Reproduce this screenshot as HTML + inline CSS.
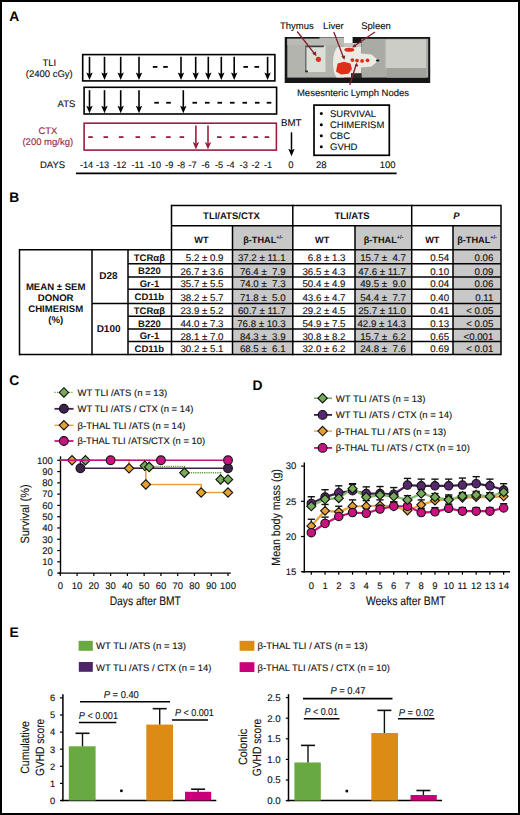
<!DOCTYPE html>
<html><head><meta charset="utf-8"><style>
html,body{margin:0;padding:0;background:#fff;}
svg{display:block;font-family:"Liberation Sans", sans-serif;text-rendering:geometricPrecision;}
</style></head><body>
<svg width="520" height="815" viewBox="0 0 520 815">
<rect x="0" y="0" width="520" height="815" fill="#fff"/>
<text x="9.3" y="21" font-size="13.8" fill="#000" font-weight="bold">A</text>
<text x="49.3" y="65.6" font-size="9.5" fill="#111" text-anchor="middle" stroke="#111" stroke-width="0.12">TLI</text>
<text x="49.3" y="77" font-size="9.5" fill="#111" text-anchor="middle" stroke="#111" stroke-width="0.12">(2400 cGy)</text>
<text x="75.3" y="106.6" font-size="9.5" fill="#111" text-anchor="end" stroke="#111" stroke-width="0.12">ATS</text>
<text x="47.9" y="133.8" font-size="9.5" fill="#9a1f3f" text-anchor="middle" stroke="#9a1f3f" stroke-width="0.12">CTX</text>
<text x="47.8" y="144.8" font-size="9.5" fill="#9a1f3f" text-anchor="middle" stroke="#9a1f3f" stroke-width="0.12">(200 mg/kg)</text>
<text x="40" y="167.5" font-size="9.5" fill="#111" stroke="#111" stroke-width="0.12">DAYS</text>
<rect x="82.7" y="54.6" width="192.2" height="26.3" fill="none" stroke="#000" stroke-width="1.6"/>
<line x1="89.5" y1="56.8" x2="89.5" y2="74.1" stroke="#000" stroke-width="1.6"/>
<path d="M86.3,72.6 L89.5,80.1 L92.7,72.6 L89.5,74.1 Z" fill="#000"/>
<line x1="104.5" y1="56.8" x2="104.5" y2="74.1" stroke="#000" stroke-width="1.6"/>
<path d="M101.3,72.6 L104.5,80.1 L107.7,72.6 L104.5,74.1 Z" fill="#000"/>
<line x1="120.7" y1="56.8" x2="120.7" y2="74.1" stroke="#000" stroke-width="1.6"/>
<path d="M117.5,72.6 L120.7,80.1 L123.9,72.6 L120.7,74.1 Z" fill="#000"/>
<line x1="139" y1="56.8" x2="139" y2="74.1" stroke="#000" stroke-width="1.6"/>
<path d="M135.8,72.6 L139,80.1 L142.2,72.6 L139,74.1 Z" fill="#000"/>
<line x1="181" y1="56.8" x2="181" y2="74.1" stroke="#000" stroke-width="1.6"/>
<path d="M177.8,72.6 L181,80.1 L184.2,72.6 L181,74.1 Z" fill="#000"/>
<line x1="195.7" y1="56.8" x2="195.7" y2="74.1" stroke="#000" stroke-width="1.6"/>
<path d="M192.5,72.6 L195.7,80.1 L198.89999999999998,72.6 L195.7,74.1 Z" fill="#000"/>
<line x1="208.3" y1="56.8" x2="208.3" y2="74.1" stroke="#000" stroke-width="1.6"/>
<path d="M205.10000000000002,72.6 L208.3,80.1 L211.5,72.6 L208.3,74.1 Z" fill="#000"/>
<line x1="221.3" y1="56.8" x2="221.3" y2="74.1" stroke="#000" stroke-width="1.6"/>
<path d="M218.10000000000002,72.6 L221.3,80.1 L224.5,72.6 L221.3,74.1 Z" fill="#000"/>
<line x1="234.2" y1="56.8" x2="234.2" y2="74.1" stroke="#000" stroke-width="1.6"/>
<path d="M231.0,72.6 L234.2,80.1 L237.39999999999998,72.6 L234.2,74.1 Z" fill="#000"/>
<line x1="267.6" y1="56.8" x2="267.6" y2="74.1" stroke="#000" stroke-width="1.6"/>
<path d="M264.40000000000003,72.6 L267.6,80.1 L270.8,72.6 L267.6,74.1 Z" fill="#000"/>
<line x1="152.79999999999998" y1="66.9" x2="157.4" y2="66.9" stroke="#000" stroke-width="1.8"/>
<line x1="163.2" y1="66.9" x2="167.8" y2="66.9" stroke="#000" stroke-width="1.8"/>
<line x1="243.39999999999998" y1="66.9" x2="248.0" y2="66.9" stroke="#000" stroke-width="1.8"/>
<line x1="254.5" y1="66.9" x2="259.1" y2="66.9" stroke="#000" stroke-width="1.8"/>
<rect x="84.1" y="87.3" width="192.5" height="26.7" fill="none" stroke="#000" stroke-width="1.6"/>
<line x1="89.5" y1="90.2" x2="89.5" y2="107.3" stroke="#000" stroke-width="1.6"/>
<path d="M86.3,105.8 L89.5,113.3 L92.7,105.8 L89.5,107.3 Z" fill="#000"/>
<line x1="104.5" y1="90.2" x2="104.5" y2="107.3" stroke="#000" stroke-width="1.6"/>
<path d="M101.3,105.8 L104.5,113.3 L107.7,105.8 L104.5,107.3 Z" fill="#000"/>
<line x1="120.7" y1="90.2" x2="120.7" y2="107.3" stroke="#000" stroke-width="1.6"/>
<path d="M117.5,105.8 L120.7,113.3 L123.9,105.8 L120.7,107.3 Z" fill="#000"/>
<line x1="139" y1="90.2" x2="139" y2="107.3" stroke="#000" stroke-width="1.6"/>
<path d="M135.8,105.8 L139,113.3 L142.2,105.8 L139,107.3 Z" fill="#000"/>
<line x1="183.3" y1="90.2" x2="183.3" y2="107.3" stroke="#000" stroke-width="1.6"/>
<path d="M180.10000000000002,105.8 L183.3,113.3 L186.5,105.8 L183.3,107.3 Z" fill="#000"/>
<line x1="154.29999999999998" y1="102.75" x2="158.9" y2="102.75" stroke="#000" stroke-width="1.8"/>
<line x1="166.2" y1="102.75" x2="170.8" y2="102.75" stroke="#000" stroke-width="1.8"/>
<line x1="192.45" y1="102.75" x2="197.05" y2="102.75" stroke="#000" stroke-width="1.8"/>
<line x1="204.95" y1="102.75" x2="209.55" y2="102.75" stroke="#000" stroke-width="1.8"/>
<line x1="217.45" y1="102.75" x2="222.05" y2="102.75" stroke="#000" stroke-width="1.8"/>
<line x1="229.95" y1="102.75" x2="234.55" y2="102.75" stroke="#000" stroke-width="1.8"/>
<line x1="242.45" y1="102.75" x2="247.05" y2="102.75" stroke="#000" stroke-width="1.8"/>
<line x1="254.95" y1="102.75" x2="259.55" y2="102.75" stroke="#000" stroke-width="1.8"/>
<line x1="266.7" y1="102.75" x2="271.3" y2="102.75" stroke="#000" stroke-width="1.8"/>
<rect x="84.1" y="123.2" width="192.3" height="26.9" fill="none" stroke="#9a1f3f" stroke-width="1.6"/>
<line x1="195.9" y1="125.5" x2="195.9" y2="143.4" stroke="#9a1f3f" stroke-width="1.6"/>
<path d="M192.70000000000002,141.9 L195.9,149.4 L199.1,141.9 L195.9,143.4 Z" fill="#9a1f3f"/>
<line x1="208" y1="125.5" x2="208" y2="143.4" stroke="#9a1f3f" stroke-width="1.6"/>
<path d="M204.8,141.9 L208,149.4 L211.2,141.9 L208,143.4 Z" fill="#9a1f3f"/>
<line x1="88.2" y1="137.1" x2="92.8" y2="137.1" stroke="#9a1f3f" stroke-width="1.8"/>
<line x1="103.5" y1="137.1" x2="108.1" y2="137.1" stroke="#9a1f3f" stroke-width="1.8"/>
<line x1="118.9" y1="137.1" x2="123.5" y2="137.1" stroke="#9a1f3f" stroke-width="1.8"/>
<line x1="135.5" y1="137.1" x2="140.10000000000002" y2="137.1" stroke="#9a1f3f" stroke-width="1.8"/>
<line x1="150.89999999999998" y1="137.1" x2="155.5" y2="137.1" stroke="#9a1f3f" stroke-width="1.8"/>
<line x1="166.1" y1="137.1" x2="170.70000000000002" y2="137.1" stroke="#9a1f3f" stroke-width="1.8"/>
<line x1="179.6" y1="137.1" x2="184.20000000000002" y2="137.1" stroke="#9a1f3f" stroke-width="1.8"/>
<line x1="217.0" y1="137.1" x2="221.60000000000002" y2="137.1" stroke="#9a1f3f" stroke-width="1.8"/>
<line x1="230.0" y1="137.1" x2="234.60000000000002" y2="137.1" stroke="#9a1f3f" stroke-width="1.8"/>
<line x1="242.0" y1="137.1" x2="246.60000000000002" y2="137.1" stroke="#9a1f3f" stroke-width="1.8"/>
<line x1="253.5" y1="137.1" x2="258.1" y2="137.1" stroke="#9a1f3f" stroke-width="1.8"/>
<line x1="264.7" y1="137.1" x2="269.3" y2="137.1" stroke="#9a1f3f" stroke-width="1.8"/>
<text x="79.89999999999999" y="167.5" font-size="9.2" fill="#111" stroke="#111" stroke-width="0.12">-14</text>
<text x="95.89999999999999" y="167.5" font-size="9.2" fill="#111" stroke="#111" stroke-width="0.12">-13</text>
<text x="113.19999999999999" y="167.5" font-size="9.2" fill="#111" stroke="#111" stroke-width="0.12">-12</text>
<text x="131.4" y="167.5" font-size="9.2" fill="#111" stroke="#111" stroke-width="0.12">-11</text>
<text x="147.79999999999998" y="167.5" font-size="9.2" fill="#111" stroke="#111" stroke-width="0.12">-10</text>
<text x="165.1" y="167.5" font-size="9.2" fill="#111" stroke="#111" stroke-width="0.12">-9</text>
<text x="176.9" y="167.5" font-size="9.2" fill="#111" stroke="#111" stroke-width="0.12">-8</text>
<text x="188.4" y="167.5" font-size="9.2" fill="#111" stroke="#111" stroke-width="0.12">-7</text>
<text x="201.5" y="167.5" font-size="9.2" fill="#111" stroke="#111" stroke-width="0.12">-6</text>
<text x="215.0" y="167.5" font-size="9.2" fill="#111" stroke="#111" stroke-width="0.12">-5</text>
<text x="226.5" y="167.5" font-size="9.2" fill="#111" stroke="#111" stroke-width="0.12">-4</text>
<text x="239.6" y="167.5" font-size="9.2" fill="#111" stroke="#111" stroke-width="0.12">-3</text>
<text x="251.5" y="167.5" font-size="9.2" fill="#111" stroke="#111" stroke-width="0.12">-2</text>
<text x="264.0" y="167.5" font-size="9.2" fill="#111" stroke="#111" stroke-width="0.12">-1</text>
<text x="291" y="167.5" font-size="9.5" fill="#111" text-anchor="middle" stroke="#111" stroke-width="0.12">0</text>
<text x="321.3" y="167.5" font-size="9.5" fill="#111" text-anchor="middle" stroke="#111" stroke-width="0.12">28</text>
<text x="387.7" y="167.5" font-size="9.5" fill="#111" text-anchor="middle" stroke="#111" stroke-width="0.12">100</text>
<line x1="76" y1="173.4" x2="396.6" y2="173.4" stroke="#000" stroke-width="1.9"/>
<text x="291.3" y="126" font-size="9.7" fill="#111" text-anchor="middle" stroke="#111" stroke-width="0.12">BMT</text>
<line x1="291.5" y1="132.3" x2="291.5" y2="150.29999999999998" stroke="#000" stroke-width="1.5"/>
<path d="M288.3,148.79999999999998 L291.5,156.2 L294.7,148.79999999999998 L291.5,150.29999999999998 Z" fill="#000"/>
<rect x="314" y="105.1" width="75.3" height="50.2" fill="none" stroke="#000" stroke-width="1.7"/>
<circle cx="321.3" cy="113.6" r="1.5" fill="#000"/>
<text x="330" y="116.89999999999999" font-size="9.5" fill="#111" stroke="#111" stroke-width="0.12">SURVIVAL</text>
<circle cx="321.3" cy="124.64999999999999" r="1.5" fill="#000"/>
<text x="330" y="127.94999999999999" font-size="9.5" fill="#111" stroke="#111" stroke-width="0.12">CHIMERISM</text>
<circle cx="321.3" cy="135.7" r="1.5" fill="#000"/>
<text x="330" y="139.0" font-size="9.5" fill="#111" stroke="#111" stroke-width="0.12">CBC</text>
<circle cx="321.3" cy="146.75" r="1.5" fill="#000"/>
<text x="330" y="150.05" font-size="9.5" fill="#111" stroke="#111" stroke-width="0.12">GVHD</text>
<g>
<rect x="284.7" y="37" width="145.5" height="46" fill="#161616"/>
<rect x="344" y="36" width="8.6" height="7" fill="#ffffff"/>
<rect x="287.3" y="38.6" width="56.7" height="39" fill="#b4b4ae"/>
<rect x="287.3" y="39" width="56.7" height="6" fill="#bbbbb5"/>
<rect x="319.5" y="37.4" width="24.5" height="2" fill="#b9b9b3"/>
<rect x="344" y="43" width="17.4" height="4.5" fill="#c6c6c0"/>
<rect x="361.4" y="38.8" width="66.8" height="38.8" fill="#ababa5"/>
<rect x="385.5" y="39.5" width="40.5" height="28.5" fill="#cdcdc8"/>
<rect x="387" y="68" width="39" height="9.6" fill="#a2a29d"/>
<path d="M337.5,47 L361.4,47 L361.4,53.5 L371.5,54.5 L378.5,60.5 L371.5,66.5 L361.4,67.5 L361.4,73.4 L351,73.4 L351,77.6 L336.5,77.6 C333.5,73 332.5,65 333.3,58 C334,52.5 335.5,49 337.5,47 Z" fill="#ebeae4"/>
<rect x="351" y="73.4" width="10.4" height="4.5" fill="#2c2c2c"/>
<rect x="305" y="46" width="20.5" height="26" fill="#dcded8"/>
<rect x="305" y="45.6" width="18.8" height="1.6" fill="#3a3a3a"/>
<rect x="305" y="46" width="1.5" height="26" fill="#6a6e6c"/>
<rect x="305" y="70.5" width="3" height="1.8" fill="#333"/>
<circle cx="318.4" cy="59.3" r="2.6" fill="#dc2e1c"/>
<path d="M337.5,63.5 L344,61.8 L350.5,63.5 L352,69 L348.5,73.8 L341,74.4 L336,71.5 Z" fill="#de2f1b"/>
<ellipse cx="349.3" cy="49.8" rx="5" ry="2" fill="#dc2e1c"/>
<circle cx="352.4" cy="60.1" r="1.9" fill="#dc2e1c"/>
<circle cx="357" cy="60.6" r="1.9" fill="#dc2e1c"/>
<circle cx="362.1" cy="60.9" r="1.9" fill="#dc2e1c"/>
<circle cx="367.5" cy="60.3" r="1.9" fill="#dc2e1c"/>
<ellipse cx="377.6" cy="60.5" rx="1.7" ry="1.1" fill="#000"/>
</g>
<line x1="297.2" y1="31.5" x2="315.2" y2="54.6" stroke="#85202f" stroke-width="1.35"/>
<path d="M316.5,56.2 L312.3,53.8 L315.8,51.3 Z" fill="#85202f"/>
<line x1="333.8" y1="32" x2="343.6" y2="57.8" stroke="#85202f" stroke-width="1.35"/>
<path d="M344.4,59.8 L341.3,56.5 L345.3,55.6 Z" fill="#85202f"/>
<line x1="375" y1="32" x2="353.6" y2="46.5" stroke="#85202f" stroke-width="1.35"/>
<path d="M352.2,47.6 L354.2,44 L356.6,47.1 Z" fill="#85202f"/>
<line x1="349.7" y1="85" x2="356.2" y2="64.5" stroke="#85202f" stroke-width="1.35"/>
<path d="M356.8,62.8 L358.3,66.6 L354.6,66 Z" fill="#85202f"/>
<text x="296.9" y="28.9" font-size="9.5" fill="#111" text-anchor="middle" stroke="#111" stroke-width="0.12">Thymus</text>
<text x="333.4" y="28.9" font-size="9.5" fill="#111" text-anchor="middle" stroke="#111" stroke-width="0.12">Liver</text>
<text x="376" y="28.9" font-size="9.5" fill="#111" text-anchor="middle" stroke="#111" stroke-width="0.12">Spleen</text>
<text x="353" y="95.5" font-size="9.5" fill="#111" text-anchor="middle" stroke="#111" stroke-width="0.12">Mesesnteric Lymph Nodes</text>
<text x="9.2" y="202" font-size="13.8" fill="#000" font-weight="bold">B</text>
<rect x="232.5" y="225.8" width="60.30000000000001" height="128.8" fill="#c8c8c8"/>
<rect x="355" y="225.8" width="56.69999999999999" height="128.8" fill="#c8c8c8"/>
<rect x="453" y="225.8" width="48" height="128.8" fill="#c8c8c8"/>
<line x1="171.5" y1="205.5" x2="501" y2="205.5" stroke="#000" stroke-width="1.5"/>
<line x1="171.5" y1="225.8" x2="501" y2="225.8" stroke="#000" stroke-width="1.5"/>
<line x1="171.5" y1="204.75" x2="171.5" y2="355.35" stroke="#000" stroke-width="1.5"/>
<line x1="292.8" y1="204.75" x2="292.8" y2="355.35" stroke="#000" stroke-width="1.5"/>
<line x1="411.7" y1="204.75" x2="411.7" y2="355.35" stroke="#000" stroke-width="1.5"/>
<line x1="501" y1="204.75" x2="501" y2="355.35" stroke="#000" stroke-width="1.5"/>
<line x1="232.5" y1="225.8" x2="232.5" y2="354.6" stroke="#000" stroke-width="1.5"/>
<line x1="355" y1="225.8" x2="355" y2="354.6" stroke="#000" stroke-width="1.5"/>
<line x1="453" y1="225.8" x2="453" y2="354.6" stroke="#000" stroke-width="1.5"/>
<line x1="19.5" y1="249.7" x2="501" y2="249.7" stroke="#000" stroke-width="1.5"/>
<line x1="128" y1="263.8" x2="501" y2="263.8" stroke="#000" stroke-width="1.5"/>
<line x1="128" y1="276.9" x2="501" y2="276.9" stroke="#000" stroke-width="1.5"/>
<line x1="128" y1="289.2" x2="501" y2="289.2" stroke="#000" stroke-width="1.5"/>
<line x1="128" y1="303.4" x2="501" y2="303.4" stroke="#000" stroke-width="1.5"/>
<line x1="128" y1="316.2" x2="501" y2="316.2" stroke="#000" stroke-width="1.5"/>
<line x1="128" y1="328.9" x2="501" y2="328.9" stroke="#000" stroke-width="1.5"/>
<line x1="128" y1="341.5" x2="501" y2="341.5" stroke="#000" stroke-width="1.5"/>
<line x1="92" y1="303.4" x2="128" y2="303.4" stroke="#000" stroke-width="1.5"/>
<line x1="19.5" y1="354.6" x2="501" y2="354.6" stroke="#000" stroke-width="1.5"/>
<line x1="19.5" y1="248.95" x2="19.5" y2="355.35" stroke="#000" stroke-width="1.5"/>
<line x1="92" y1="248.95" x2="92" y2="355.35" stroke="#000" stroke-width="1.5"/>
<line x1="128" y1="248.95" x2="128" y2="355.35" stroke="#000" stroke-width="1.5"/>
<text x="231.5" y="218.8" font-size="9.5" fill="#111" text-anchor="middle" font-weight="bold">TLI/ATS/CTX</text>
<text x="352" y="218.8" font-size="9.5" fill="#111" text-anchor="middle" font-weight="bold">TLI/ATS</text>
<text x="456.5" y="218.7" font-size="9.5" fill="#111" text-anchor="middle" font-weight="bold" font-style="italic">P</text>
<text x="201.5" y="243" font-size="9.2" fill="#111" text-anchor="middle" font-weight="bold">WT</text>
<text x="263" y="243.4" font-size="9.2" font-weight="bold" fill="#111" text-anchor="middle">β-THAL<tspan font-size="5.5" dy="-4.2">+/-</tspan></text>
<text x="322.2" y="243" font-size="9.2" fill="#111" text-anchor="middle" font-weight="bold">WT</text>
<text x="383.5" y="243.4" font-size="9.2" font-weight="bold" fill="#111" text-anchor="middle">β-THAL<tspan font-size="5.5" dy="-4.2">+/-</tspan></text>
<text x="432.3" y="243" font-size="9.2" fill="#111" text-anchor="middle" font-weight="bold">WT</text>
<text x="477" y="243.4" font-size="9.2" font-weight="bold" fill="#111" text-anchor="middle">β-THAL<tspan font-size="5.5" dy="-4.2">+/-</tspan></text>
<text x="55.7" y="290.3" font-size="9.6" fill="#111" text-anchor="middle" font-weight="bold">MEAN ± SEM</text>
<text x="55.7" y="301.3" font-size="9.6" fill="#111" text-anchor="middle" font-weight="bold">DONOR</text>
<text x="55.7" y="312.3" font-size="9.6" fill="#111" text-anchor="middle" font-weight="bold">CHIMERISM</text>
<text x="55.7" y="323.3" font-size="9.6" fill="#111" text-anchor="middle" font-weight="bold">(%)</text>
<text x="108.5" y="278.9" font-size="10" fill="#111" text-anchor="middle" font-weight="bold">D28</text>
<text x="108.6" y="331.8" font-size="10" fill="#111" text-anchor="middle" font-weight="bold">D100</text>
<text x="149.4" y="260.85" font-size="9.5" fill="#111" text-anchor="middle" font-weight="bold">TCRαβ</text>
<text x="223.5" y="261.05" font-size="9.7" fill="#111" text-anchor="end" stroke="#111" stroke-width="0.12" style="white-space:pre">5.2 ± 0.9</text>
<text x="285.6" y="261.05" font-size="9.7" fill="#111" text-anchor="end" stroke="#111" stroke-width="0.12" style="white-space:pre">37.2 ± 11.1</text>
<text x="345.5" y="261.05" font-size="9.7" fill="#111" text-anchor="end" stroke="#111" stroke-width="0.12" style="white-space:pre">6.8 ± 1.3</text>
<text x="405.9" y="261.05" font-size="9.7" fill="#111" text-anchor="end" stroke="#111" stroke-width="0.12" style="white-space:pre">15.7 ±  4.7</text>
<text x="449.1" y="261.05" font-size="9.7" fill="#111" text-anchor="end" stroke="#111" stroke-width="0.12" style="white-space:pre">0.54</text>
<text x="493.4" y="261.05" font-size="9.7" fill="#111" text-anchor="end" stroke="#111" stroke-width="0.12" style="white-space:pre">0.06</text>
<text x="149.4" y="274.45000000000005" font-size="9.5" fill="#111" text-anchor="middle" font-weight="bold">B220</text>
<text x="223.5" y="274.65000000000003" font-size="9.7" fill="#111" text-anchor="end" stroke="#111" stroke-width="0.12" style="white-space:pre">26.7 ± 3.6</text>
<text x="285.6" y="274.65000000000003" font-size="9.7" fill="#111" text-anchor="end" stroke="#111" stroke-width="0.12" style="white-space:pre">76.4 ±  7.9</text>
<text x="345.5" y="274.65000000000003" font-size="9.7" fill="#111" text-anchor="end" stroke="#111" stroke-width="0.12" style="white-space:pre">36.5 ± 4.3</text>
<text x="405.9" y="274.65000000000003" font-size="9.7" fill="#111" text-anchor="end" stroke="#111" stroke-width="0.12" style="white-space:pre">47.6 ± 11.7</text>
<text x="449.1" y="274.65000000000003" font-size="9.7" fill="#111" text-anchor="end" stroke="#111" stroke-width="0.12" style="white-space:pre">0.10</text>
<text x="493.4" y="274.65000000000003" font-size="9.7" fill="#111" text-anchor="end" stroke="#111" stroke-width="0.12" style="white-space:pre">0.09</text>
<text x="149.4" y="287.15" font-size="9.5" fill="#111" text-anchor="middle" font-weight="bold">Gr-1</text>
<text x="223.5" y="287.34999999999997" font-size="9.7" fill="#111" text-anchor="end" stroke="#111" stroke-width="0.12" style="white-space:pre">35.7 ± 5.5</text>
<text x="285.6" y="287.34999999999997" font-size="9.7" fill="#111" text-anchor="end" stroke="#111" stroke-width="0.12" style="white-space:pre">74.0 ±  7.3</text>
<text x="345.5" y="287.34999999999997" font-size="9.7" fill="#111" text-anchor="end" stroke="#111" stroke-width="0.12" style="white-space:pre">50.4 ± 4.9</text>
<text x="405.9" y="287.34999999999997" font-size="9.7" fill="#111" text-anchor="end" stroke="#111" stroke-width="0.12" style="white-space:pre">49.5 ±  9.0</text>
<text x="449.1" y="287.34999999999997" font-size="9.7" fill="#111" text-anchor="end" stroke="#111" stroke-width="0.12" style="white-space:pre">0.04</text>
<text x="493.4" y="287.34999999999997" font-size="9.7" fill="#111" text-anchor="end" stroke="#111" stroke-width="0.12" style="white-space:pre">0.06</text>
<text x="149.4" y="300.4" font-size="9.5" fill="#111" text-anchor="middle" font-weight="bold">CD11b</text>
<text x="223.5" y="300.59999999999997" font-size="9.7" fill="#111" text-anchor="end" stroke="#111" stroke-width="0.12" style="white-space:pre">38.2 ± 5.7</text>
<text x="285.6" y="300.59999999999997" font-size="9.7" fill="#111" text-anchor="end" stroke="#111" stroke-width="0.12" style="white-space:pre">71.8 ±  5.0</text>
<text x="345.5" y="300.59999999999997" font-size="9.7" fill="#111" text-anchor="end" stroke="#111" stroke-width="0.12" style="white-space:pre">43.6 ± 4.7</text>
<text x="405.9" y="300.59999999999997" font-size="9.7" fill="#111" text-anchor="end" stroke="#111" stroke-width="0.12" style="white-space:pre">54.4 ±  7.7</text>
<text x="449.1" y="300.59999999999997" font-size="9.7" fill="#111" text-anchor="end" stroke="#111" stroke-width="0.12" style="white-space:pre">0.40</text>
<text x="493.4" y="300.59999999999997" font-size="9.7" fill="#111" text-anchor="end" stroke="#111" stroke-width="0.12" style="white-space:pre">0.11</text>
<text x="149.4" y="313.9" font-size="9.5" fill="#111" text-anchor="middle" font-weight="bold">TCRαβ</text>
<text x="223.5" y="314.09999999999997" font-size="9.7" fill="#111" text-anchor="end" stroke="#111" stroke-width="0.12" style="white-space:pre">23.9 ± 5.2</text>
<text x="285.6" y="314.09999999999997" font-size="9.7" fill="#111" text-anchor="end" stroke="#111" stroke-width="0.12" style="white-space:pre">60.7 ± 11.7</text>
<text x="345.5" y="314.09999999999997" font-size="9.7" fill="#111" text-anchor="end" stroke="#111" stroke-width="0.12" style="white-space:pre">29.2 ± 4.5</text>
<text x="405.9" y="314.09999999999997" font-size="9.7" fill="#111" text-anchor="end" stroke="#111" stroke-width="0.12" style="white-space:pre">25.7 ± 11.0</text>
<text x="449.1" y="314.09999999999997" font-size="9.7" fill="#111" text-anchor="end" stroke="#111" stroke-width="0.12" style="white-space:pre">0.41</text>
<text x="493.4" y="314.09999999999997" font-size="9.7" fill="#111" text-anchor="end" stroke="#111" stroke-width="0.12" style="white-space:pre">< 0.05</text>
<text x="149.4" y="326.65" font-size="9.5" fill="#111" text-anchor="middle" font-weight="bold">B220</text>
<text x="223.5" y="326.84999999999997" font-size="9.7" fill="#111" text-anchor="end" stroke="#111" stroke-width="0.12" style="white-space:pre">44.0 ± 7.3</text>
<text x="285.6" y="326.84999999999997" font-size="9.7" fill="#111" text-anchor="end" stroke="#111" stroke-width="0.12" style="white-space:pre">76.8 ± 10.3</text>
<text x="345.5" y="326.84999999999997" font-size="9.7" fill="#111" text-anchor="end" stroke="#111" stroke-width="0.12" style="white-space:pre">54.9 ± 7.5</text>
<text x="405.9" y="326.84999999999997" font-size="9.7" fill="#111" text-anchor="end" stroke="#111" stroke-width="0.12" style="white-space:pre">42.9 ± 14.3</text>
<text x="449.1" y="326.84999999999997" font-size="9.7" fill="#111" text-anchor="end" stroke="#111" stroke-width="0.12" style="white-space:pre">0.13</text>
<text x="493.4" y="326.84999999999997" font-size="9.7" fill="#111" text-anchor="end" stroke="#111" stroke-width="0.12" style="white-space:pre">< 0.05</text>
<text x="149.4" y="339.3" font-size="9.5" fill="#111" text-anchor="middle" font-weight="bold">Gr-1</text>
<text x="223.5" y="339.5" font-size="9.7" fill="#111" text-anchor="end" stroke="#111" stroke-width="0.12" style="white-space:pre">28.1 ± 7.0</text>
<text x="285.6" y="339.5" font-size="9.7" fill="#111" text-anchor="end" stroke="#111" stroke-width="0.12" style="white-space:pre">84.3 ±  3.9</text>
<text x="345.5" y="339.5" font-size="9.7" fill="#111" text-anchor="end" stroke="#111" stroke-width="0.12" style="white-space:pre">30.8 ± 8.2</text>
<text x="405.9" y="339.5" font-size="9.7" fill="#111" text-anchor="end" stroke="#111" stroke-width="0.12" style="white-space:pre">15.7 ±  6.2</text>
<text x="449.1" y="339.5" font-size="9.7" fill="#111" text-anchor="end" stroke="#111" stroke-width="0.12" style="white-space:pre">0.65</text>
<text x="493.4" y="339.5" font-size="9.7" fill="#111" text-anchor="end" stroke="#111" stroke-width="0.12" style="white-space:pre"><0.001</text>
<text x="149.4" y="352.15000000000003" font-size="9.5" fill="#111" text-anchor="middle" font-weight="bold">CD11b</text>
<text x="223.5" y="352.35" font-size="9.7" fill="#111" text-anchor="end" stroke="#111" stroke-width="0.12" style="white-space:pre">30.2 ± 5.1</text>
<text x="285.6" y="352.35" font-size="9.7" fill="#111" text-anchor="end" stroke="#111" stroke-width="0.12" style="white-space:pre">68.5 ±  6.1</text>
<text x="345.5" y="352.35" font-size="9.7" fill="#111" text-anchor="end" stroke="#111" stroke-width="0.12" style="white-space:pre">32.0 ± 6.2</text>
<text x="405.9" y="352.35" font-size="9.7" fill="#111" text-anchor="end" stroke="#111" stroke-width="0.12" style="white-space:pre">24.8 ±  7.6</text>
<text x="449.1" y="352.35" font-size="9.7" fill="#111" text-anchor="end" stroke="#111" stroke-width="0.12" style="white-space:pre">0.69</text>
<text x="493.4" y="352.35" font-size="9.7" fill="#111" text-anchor="end" stroke="#111" stroke-width="0.12" style="white-space:pre">< 0.01</text>
<text x="9.3" y="384.5" font-size="13.8" fill="#000" font-weight="bold">C</text>
<line x1="54.5" y1="392.4" x2="73.5" y2="392.4" stroke="#6a9a52" stroke-width="1.2" stroke-dasharray="1.2 1.2"/>
<path d="M63.9,387.7 L68.6,392.4 L63.9,397.09999999999997 L59.199999999999996,392.4 Z" fill="#76ad5a" stroke="#111" stroke-width="1.1"/>
<text x="77.5" y="395.79999999999995" font-size="9.4" fill="#111" textLength="89.6" lengthAdjust="spacingAndGlyphs" stroke="#111" stroke-width="0.12">WT TLI /ATS (n = 13)</text>
<line x1="54.5" y1="408.8" x2="73.5" y2="408.8" stroke="#3f2150" stroke-width="1.8"/>
<circle cx="63.9" cy="408.8" r="4.4" fill="#40224f" stroke="#111" stroke-width="1.1"/>
<text x="77.5" y="412.2" font-size="9.4" fill="#111" textLength="115.9" lengthAdjust="spacingAndGlyphs" stroke="#111" stroke-width="0.12">WT TLI /ATS / CTX (n = 14)</text>
<line x1="54.5" y1="425.3" x2="73.5" y2="425.3" stroke="#e5a43c" stroke-width="1.4"/>
<path d="M63.9,420.6 L68.6,425.3 L63.9,430.0 L59.199999999999996,425.3 Z" fill="#e4a032" stroke="#111" stroke-width="1.1"/>
<text x="77.5" y="428.7" font-size="9.4" fill="#111" textLength="107.9" lengthAdjust="spacingAndGlyphs" stroke="#111" stroke-width="0.12">β-THAL TLI /ATS (n = 14)</text>
<line x1="54.5" y1="441.0" x2="73.5" y2="441.0" stroke="#c8137f" stroke-width="1.8"/>
<circle cx="63.9" cy="441.0" r="4.4" fill="#c8137f" stroke="#111" stroke-width="1.1"/>
<text x="77.5" y="444.4" font-size="9.4" fill="#111" textLength="127.6" lengthAdjust="spacingAndGlyphs" stroke="#111" stroke-width="0.12">β-THAL TLI /ATS/CTX (n = 10)</text>
<line x1="60.5" y1="456.3" x2="60.5" y2="573.8" stroke="#000" stroke-width="1.4"/>
<line x1="58.5" y1="573.1" x2="230.8" y2="573.1" stroke="#000" stroke-width="1.4"/>
<line x1="57.2" y1="573.1" x2="60.5" y2="573.1" stroke="#000" stroke-width="1.2"/>
<text x="52.9" y="576.4" font-size="9.5" fill="#111" text-anchor="end" stroke="#111" stroke-width="0.12">0</text>
<line x1="57.2" y1="561.82" x2="60.5" y2="561.82" stroke="#000" stroke-width="1.2"/>
<text x="52.9" y="565.12" font-size="9.5" fill="#111" text-anchor="end" stroke="#111" stroke-width="0.12">10</text>
<line x1="57.2" y1="550.5400000000001" x2="60.5" y2="550.5400000000001" stroke="#000" stroke-width="1.2"/>
<text x="52.9" y="553.84" font-size="9.5" fill="#111" text-anchor="end" stroke="#111" stroke-width="0.12">20</text>
<line x1="57.2" y1="539.26" x2="60.5" y2="539.26" stroke="#000" stroke-width="1.2"/>
<text x="52.9" y="542.56" font-size="9.5" fill="#111" text-anchor="end" stroke="#111" stroke-width="0.12">30</text>
<line x1="57.2" y1="527.98" x2="60.5" y2="527.98" stroke="#000" stroke-width="1.2"/>
<text x="52.9" y="531.28" font-size="9.5" fill="#111" text-anchor="end" stroke="#111" stroke-width="0.12">40</text>
<line x1="57.2" y1="516.7" x2="60.5" y2="516.7" stroke="#000" stroke-width="1.2"/>
<text x="52.9" y="520.0" font-size="9.5" fill="#111" text-anchor="end" stroke="#111" stroke-width="0.12">50</text>
<line x1="57.2" y1="505.42" x2="60.5" y2="505.42" stroke="#000" stroke-width="1.2"/>
<text x="52.9" y="508.72" font-size="9.5" fill="#111" text-anchor="end" stroke="#111" stroke-width="0.12">60</text>
<line x1="57.2" y1="494.14000000000004" x2="60.5" y2="494.14000000000004" stroke="#000" stroke-width="1.2"/>
<text x="52.9" y="497.44000000000005" font-size="9.5" fill="#111" text-anchor="end" stroke="#111" stroke-width="0.12">70</text>
<line x1="57.2" y1="482.86" x2="60.5" y2="482.86" stroke="#000" stroke-width="1.2"/>
<text x="52.9" y="486.16" font-size="9.5" fill="#111" text-anchor="end" stroke="#111" stroke-width="0.12">80</text>
<line x1="57.2" y1="471.58000000000004" x2="60.5" y2="471.58000000000004" stroke="#000" stroke-width="1.2"/>
<text x="52.9" y="474.88000000000005" font-size="9.5" fill="#111" text-anchor="end" stroke="#111" stroke-width="0.12">90</text>
<line x1="57.2" y1="460.30000000000007" x2="60.5" y2="460.30000000000007" stroke="#000" stroke-width="1.2"/>
<text x="52.9" y="463.6000000000001" font-size="9.5" fill="#111" text-anchor="end" stroke="#111" stroke-width="0.12">100</text>
<line x1="60.3" y1="573.1" x2="60.3" y2="576" stroke="#000" stroke-width="1.2"/>
<text x="60.3" y="588.6" font-size="9.5" fill="#111" text-anchor="middle" stroke="#111" stroke-width="0.12">0</text>
<line x1="77.07" y1="573.1" x2="77.07" y2="576" stroke="#000" stroke-width="1.2"/>
<text x="77.07" y="588.6" font-size="9.5" fill="#111" text-anchor="middle" stroke="#111" stroke-width="0.12">10</text>
<line x1="93.84" y1="573.1" x2="93.84" y2="576" stroke="#000" stroke-width="1.2"/>
<text x="93.84" y="588.6" font-size="9.5" fill="#111" text-anchor="middle" stroke="#111" stroke-width="0.12">20</text>
<line x1="110.61" y1="573.1" x2="110.61" y2="576" stroke="#000" stroke-width="1.2"/>
<text x="110.61" y="588.6" font-size="9.5" fill="#111" text-anchor="middle" stroke="#111" stroke-width="0.12">30</text>
<line x1="127.38" y1="573.1" x2="127.38" y2="576" stroke="#000" stroke-width="1.2"/>
<text x="127.38" y="588.6" font-size="9.5" fill="#111" text-anchor="middle" stroke="#111" stroke-width="0.12">40</text>
<line x1="144.15" y1="573.1" x2="144.15" y2="576" stroke="#000" stroke-width="1.2"/>
<text x="144.15" y="588.6" font-size="9.5" fill="#111" text-anchor="middle" stroke="#111" stroke-width="0.12">50</text>
<line x1="160.92000000000002" y1="573.1" x2="160.92000000000002" y2="576" stroke="#000" stroke-width="1.2"/>
<text x="160.92000000000002" y="588.6" font-size="9.5" fill="#111" text-anchor="middle" stroke="#111" stroke-width="0.12">60</text>
<line x1="177.69" y1="573.1" x2="177.69" y2="576" stroke="#000" stroke-width="1.2"/>
<text x="177.69" y="588.6" font-size="9.5" fill="#111" text-anchor="middle" stroke="#111" stroke-width="0.12">70</text>
<line x1="194.45999999999998" y1="573.1" x2="194.45999999999998" y2="576" stroke="#000" stroke-width="1.2"/>
<text x="194.45999999999998" y="588.6" font-size="9.5" fill="#111" text-anchor="middle" stroke="#111" stroke-width="0.12">80</text>
<line x1="211.23000000000002" y1="573.1" x2="211.23000000000002" y2="576" stroke="#000" stroke-width="1.2"/>
<text x="211.23000000000002" y="588.6" font-size="9.5" fill="#111" text-anchor="middle" stroke="#111" stroke-width="0.12">90</text>
<line x1="228.0" y1="573.1" x2="228.0" y2="576" stroke="#000" stroke-width="1.2"/>
<text x="228.0" y="588.6" font-size="9.5" fill="#111" text-anchor="middle" stroke="#111" stroke-width="0.12">100</text>
<text x="145.3" y="604.6" font-size="12.2" fill="#111" text-anchor="middle" textLength="71.2" lengthAdjust="spacingAndGlyphs" stroke="#111" stroke-width="0.12">Days after BMT</text>
<text x="29.3" y="514" font-size="12" fill="#111" text-anchor="middle" textLength="59.2" lengthAdjust="spacingAndGlyphs" stroke="#111" stroke-width="0.12" transform="rotate(-90 29.3 514)">Survival (%)</text>
<path d="M60.30,460.30 L129.06,460.30 L129.06,468.31 L145.83,468.31 L145.83,484.44 L201.17,484.44 L201.17,492.56 L228.00,492.56" fill="none" stroke="#e5a43c" stroke-width="1.6"/>
<path d="M60.30,460.30 L80.42,460.30 L80.42,468.31 L228.00,468.31" fill="none" stroke="#3f2150" stroke-width="1.6"/>
<path d="M60.30,460.30 L149.18,460.30 L149.18,466.50 L184.40,466.50 L184.40,472.71 L220.62,472.71 L220.62,479.48 L228.00,479.48" fill="none" stroke="#5e9a44" stroke-width="1.5" stroke-dasharray="1.2 1"/>
<path d="M72.039,455.6000000000001 L76.739,460.30000000000007 L72.039,465.00000000000006 L67.339,460.30000000000007 Z" fill="#e4a032" stroke="#111" stroke-width="1.1"/>
<path d="M85.455,455.6000000000001 L90.155,460.30000000000007 L85.455,465.00000000000006 L80.755,460.30000000000007 Z" fill="#76ad5a" stroke="#111" stroke-width="1.1"/>
<path d="M60.30,460.30 L228.00,460.30" fill="none" stroke="#c8137f" stroke-width="1.6"/>
<circle cx="80.424" cy="468.3088" r="4.4" fill="#40224f" stroke="#111" stroke-width="1.1"/>
<circle cx="110.61" cy="460.30000000000007" r="4.4" fill="#c8137f" stroke="#111" stroke-width="1.1"/>
<path d="M129.05700000000002,463.60880000000003 L133.757,468.3088 L129.05700000000002,473.0088 L124.35700000000001,468.3088 Z" fill="#e4a032" stroke="#111" stroke-width="1.1"/>
<path d="M144.8208,461.1272000000001 L149.52079999999998,465.82720000000006 L144.8208,470.52720000000005 L140.1208,465.82720000000006 Z" fill="#76ad5a" stroke="#111" stroke-width="1.1"/>
<path d="M149.18099999999998,462.25520000000006 L153.88099999999997,466.95520000000005 L149.18099999999998,471.65520000000004 L144.481,466.95520000000005 Z" fill="#76ad5a" stroke="#111" stroke-width="1.1"/>
<path d="M145.827,479.73920000000004 L150.527,484.4392 L145.827,489.1392 L141.127,484.4392 Z" fill="#e4a032" stroke="#111" stroke-width="1.1"/>
<circle cx="160.92000000000002" cy="460.30000000000007" r="4.4" fill="#c8137f" stroke="#111" stroke-width="1.1"/>
<path d="M184.398,468.00800000000004 L189.09799999999998,472.708 L184.398,477.408 L179.698,472.708 Z" fill="#76ad5a" stroke="#111" stroke-width="1.1"/>
<path d="M201.168,487.86080000000004 L205.868,492.56080000000003 L201.168,497.2608 L196.46800000000002,492.56080000000003 Z" fill="#e4a032" stroke="#111" stroke-width="1.1"/>
<path d="M220.6212,474.776 L225.32119999999998,479.476 L220.6212,484.176 L215.9212,479.476 Z" fill="#76ad5a" stroke="#111" stroke-width="1.1"/>
<path d="M228.0,474.776 L232.7,479.476 L228.0,484.176 L223.3,479.476 Z" fill="#76ad5a" stroke="#111" stroke-width="1.1"/>
<path d="M228.0,487.86080000000004 L232.7,492.56080000000003 L228.0,497.2608 L223.3,492.56080000000003 Z" fill="#e4a032" stroke="#111" stroke-width="1.1"/>
<circle cx="228.0" cy="468.3088" r="4.4" fill="#40224f" stroke="#111" stroke-width="1.1"/>
<circle cx="228.0" cy="460.30000000000007" r="4.4" fill="#c8137f" stroke="#111" stroke-width="1.1"/>
<text x="252.5" y="390.3" font-size="13.8" fill="#000" font-weight="bold">D</text>
<line x1="314" y1="398.2" x2="332" y2="398.2" stroke="#6a9a52" stroke-width="1.3"/>
<path d="M322.6,393.5 L327.3,398.2 L322.6,402.9 L317.90000000000003,398.2 Z" fill="#76ad5a" stroke="#111" stroke-width="1.1"/>
<text x="335.8" y="401.59999999999997" font-size="9.4" fill="#111" textLength="89.7" lengthAdjust="spacingAndGlyphs" stroke="#111" stroke-width="0.12">WT TLI /ATS (n = 13)</text>
<line x1="314" y1="414.9" x2="332" y2="414.9" stroke="#3f2150" stroke-width="1.8"/>
<circle cx="322.6" cy="414.9" r="4.4" fill="#56286e" stroke="#111" stroke-width="1.1"/>
<text x="335.8" y="418.29999999999995" font-size="9.4" fill="#111" textLength="116.4" lengthAdjust="spacingAndGlyphs" stroke="#111" stroke-width="0.12">WT TLI /ATS / CTX (n = 14)</text>
<line x1="314" y1="431.1" x2="332" y2="431.1" stroke="#e5a43c" stroke-width="1.4"/>
<path d="M322.6,426.40000000000003 L327.3,431.1 L322.6,435.8 L317.90000000000003,431.1 Z" fill="#e4a032" stroke="#111" stroke-width="1.1"/>
<text x="335.8" y="434.5" font-size="9.4" fill="#111" textLength="110.5" lengthAdjust="spacingAndGlyphs" stroke="#111" stroke-width="0.12">β-THAL TLI / ATS (n = 13)</text>
<line x1="314" y1="447.9" x2="332" y2="447.9" stroke="#c8137f" stroke-width="1.8"/>
<circle cx="322.6" cy="447.9" r="4.4" fill="#c8137f" stroke="#111" stroke-width="1.1"/>
<text x="335.8" y="451.29999999999995" font-size="9.4" fill="#111" textLength="134" lengthAdjust="spacingAndGlyphs" stroke="#111" stroke-width="0.12">β-THAL TLI /ATS / CTX (n = 10)</text>
<line x1="304.3" y1="462.5" x2="304.3" y2="572.4" stroke="#000" stroke-width="1.4"/>
<line x1="302.3" y1="571.7" x2="510" y2="571.7" stroke="#000" stroke-width="1.4"/>
<line x1="301" y1="571.7" x2="304.3" y2="571.7" stroke="#000" stroke-width="1.2"/>
<text x="296.3" y="575.0" font-size="9.5" fill="#111" text-anchor="end" stroke="#111" stroke-width="0.12">15</text>
<line x1="301" y1="536.5" x2="304.3" y2="536.5" stroke="#000" stroke-width="1.2"/>
<text x="296.3" y="539.8" font-size="9.5" fill="#111" text-anchor="end" stroke="#111" stroke-width="0.12">20</text>
<line x1="301" y1="501.30000000000007" x2="304.3" y2="501.30000000000007" stroke="#000" stroke-width="1.2"/>
<text x="296.3" y="504.6000000000001" font-size="9.5" fill="#111" text-anchor="end" stroke="#111" stroke-width="0.12">25</text>
<line x1="301" y1="466.1" x2="304.3" y2="466.1" stroke="#000" stroke-width="1.2"/>
<text x="296.3" y="469.40000000000003" font-size="9.5" fill="#111" text-anchor="end" stroke="#111" stroke-width="0.12">30</text>
<line x1="311.3" y1="571.7" x2="311.3" y2="574.7" stroke="#000" stroke-width="1.2"/>
<text x="311.3" y="588.6" font-size="9.5" fill="#111" text-anchor="middle" stroke="#111" stroke-width="0.12">0</text>
<line x1="325.04" y1="571.7" x2="325.04" y2="574.7" stroke="#000" stroke-width="1.2"/>
<text x="325.04" y="588.6" font-size="9.5" fill="#111" text-anchor="middle" stroke="#111" stroke-width="0.12">1</text>
<line x1="338.78000000000003" y1="571.7" x2="338.78000000000003" y2="574.7" stroke="#000" stroke-width="1.2"/>
<text x="338.78000000000003" y="588.6" font-size="9.5" fill="#111" text-anchor="middle" stroke="#111" stroke-width="0.12">2</text>
<line x1="352.52" y1="571.7" x2="352.52" y2="574.7" stroke="#000" stroke-width="1.2"/>
<text x="352.52" y="588.6" font-size="9.5" fill="#111" text-anchor="middle" stroke="#111" stroke-width="0.12">3</text>
<line x1="366.26" y1="571.7" x2="366.26" y2="574.7" stroke="#000" stroke-width="1.2"/>
<text x="366.26" y="588.6" font-size="9.5" fill="#111" text-anchor="middle" stroke="#111" stroke-width="0.12">4</text>
<line x1="380.0" y1="571.7" x2="380.0" y2="574.7" stroke="#000" stroke-width="1.2"/>
<text x="380.0" y="588.6" font-size="9.5" fill="#111" text-anchor="middle" stroke="#111" stroke-width="0.12">5</text>
<line x1="393.74" y1="571.7" x2="393.74" y2="574.7" stroke="#000" stroke-width="1.2"/>
<text x="393.74" y="588.6" font-size="9.5" fill="#111" text-anchor="middle" stroke="#111" stroke-width="0.12">6</text>
<line x1="407.48" y1="571.7" x2="407.48" y2="574.7" stroke="#000" stroke-width="1.2"/>
<text x="407.48" y="588.6" font-size="9.5" fill="#111" text-anchor="middle" stroke="#111" stroke-width="0.12">7</text>
<line x1="421.22" y1="571.7" x2="421.22" y2="574.7" stroke="#000" stroke-width="1.2"/>
<text x="421.22" y="588.6" font-size="9.5" fill="#111" text-anchor="middle" stroke="#111" stroke-width="0.12">8</text>
<line x1="434.96000000000004" y1="571.7" x2="434.96000000000004" y2="574.7" stroke="#000" stroke-width="1.2"/>
<text x="434.96000000000004" y="588.6" font-size="9.5" fill="#111" text-anchor="middle" stroke="#111" stroke-width="0.12">9</text>
<line x1="448.70000000000005" y1="571.7" x2="448.70000000000005" y2="574.7" stroke="#000" stroke-width="1.2"/>
<text x="448.70000000000005" y="588.6" font-size="9.5" fill="#111" text-anchor="middle" stroke="#111" stroke-width="0.12">10</text>
<line x1="462.44000000000005" y1="571.7" x2="462.44000000000005" y2="574.7" stroke="#000" stroke-width="1.2"/>
<text x="462.44000000000005" y="588.6" font-size="9.5" fill="#111" text-anchor="middle" stroke="#111" stroke-width="0.12">11</text>
<line x1="476.18" y1="571.7" x2="476.18" y2="574.7" stroke="#000" stroke-width="1.2"/>
<text x="476.18" y="588.6" font-size="9.5" fill="#111" text-anchor="middle" stroke="#111" stroke-width="0.12">12</text>
<line x1="489.92" y1="571.7" x2="489.92" y2="574.7" stroke="#000" stroke-width="1.2"/>
<text x="489.92" y="588.6" font-size="9.5" fill="#111" text-anchor="middle" stroke="#111" stroke-width="0.12">13</text>
<line x1="503.66" y1="571.7" x2="503.66" y2="574.7" stroke="#000" stroke-width="1.2"/>
<text x="503.66" y="588.6" font-size="9.5" fill="#111" text-anchor="middle" stroke="#111" stroke-width="0.12">14</text>
<text x="405.8" y="604.6" font-size="12.2" fill="#111" text-anchor="middle" textLength="79.6" lengthAdjust="spacingAndGlyphs" stroke="#111" stroke-width="0.12">Weeks after BMT</text>
<text x="279.8" y="517.4" font-size="12" fill="#111" text-anchor="middle" textLength="96.6" lengthAdjust="spacingAndGlyphs" stroke="#111" stroke-width="0.12" transform="rotate(-90 279.8 517.4)">Mean body mass (g)</text>
<line x1="311.3" y1="525.94" x2="311.3" y2="519.2520000000001" stroke="#111" stroke-width="1.2"/>
<line x1="307.7" y1="519.2520000000001" x2="314.90000000000003" y2="519.2520000000001" stroke="#111" stroke-width="1.4"/>
<line x1="325.04" y1="510.80400000000003" x2="325.04" y2="504.4680000000001" stroke="#111" stroke-width="1.2"/>
<line x1="321.44" y1="504.4680000000001" x2="328.64000000000004" y2="504.4680000000001" stroke="#111" stroke-width="1.4"/>
<line x1="338.78000000000003" y1="511.86" x2="338.78000000000003" y2="506.22800000000007" stroke="#111" stroke-width="1.2"/>
<line x1="335.18" y1="506.22800000000007" x2="342.38000000000005" y2="506.22800000000007" stroke="#111" stroke-width="1.4"/>
<line x1="352.52" y1="506.22800000000007" x2="352.52" y2="499.89200000000005" stroke="#111" stroke-width="1.2"/>
<line x1="348.91999999999996" y1="499.89200000000005" x2="356.12" y2="499.89200000000005" stroke="#111" stroke-width="1.4"/>
<line x1="366.26" y1="506.22800000000007" x2="366.26" y2="500.596" stroke="#111" stroke-width="1.2"/>
<line x1="362.65999999999997" y1="500.596" x2="369.86" y2="500.596" stroke="#111" stroke-width="1.4"/>
<line x1="380.0" y1="505.52400000000006" x2="380.0" y2="499.89200000000005" stroke="#111" stroke-width="1.2"/>
<line x1="376.4" y1="499.89200000000005" x2="383.6" y2="499.89200000000005" stroke="#111" stroke-width="1.4"/>
<line x1="393.74" y1="506.22800000000007" x2="393.74" y2="502.004" stroke="#111" stroke-width="1.2"/>
<line x1="390.14" y1="502.004" x2="397.34000000000003" y2="502.004" stroke="#111" stroke-width="1.4"/>
<line x1="407.48" y1="510.45200000000006" x2="407.48" y2="504.82000000000005" stroke="#111" stroke-width="1.2"/>
<line x1="403.88" y1="504.82000000000005" x2="411.08000000000004" y2="504.82000000000005" stroke="#111" stroke-width="1.4"/>
<line x1="421.22" y1="504.82000000000005" x2="421.22" y2="499.89200000000005" stroke="#111" stroke-width="1.2"/>
<line x1="417.62" y1="499.89200000000005" x2="424.82000000000005" y2="499.89200000000005" stroke="#111" stroke-width="1.4"/>
<line x1="434.96000000000004" y1="500.596" x2="434.96000000000004" y2="496.372" stroke="#111" stroke-width="1.2"/>
<line x1="431.36" y1="496.372" x2="438.56000000000006" y2="496.372" stroke="#111" stroke-width="1.4"/>
<line x1="448.70000000000005" y1="499.18800000000005" x2="448.70000000000005" y2="494.96400000000006" stroke="#111" stroke-width="1.2"/>
<line x1="445.1" y1="494.96400000000006" x2="452.30000000000007" y2="494.96400000000006" stroke="#111" stroke-width="1.4"/>
<line x1="462.44000000000005" y1="497.78000000000003" x2="462.44000000000005" y2="493.55600000000004" stroke="#111" stroke-width="1.2"/>
<line x1="458.84000000000003" y1="493.55600000000004" x2="466.0400000000001" y2="493.55600000000004" stroke="#111" stroke-width="1.4"/>
<line x1="476.18" y1="497.076" x2="476.18" y2="492.85200000000003" stroke="#111" stroke-width="1.2"/>
<line x1="472.58" y1="492.85200000000003" x2="479.78000000000003" y2="492.85200000000003" stroke="#111" stroke-width="1.4"/>
<line x1="489.92" y1="497.076" x2="489.92" y2="492.85200000000003" stroke="#111" stroke-width="1.2"/>
<line x1="486.32" y1="492.85200000000003" x2="493.52000000000004" y2="492.85200000000003" stroke="#111" stroke-width="1.4"/>
<line x1="503.66" y1="496.37200000000007" x2="503.66" y2="492.148" stroke="#111" stroke-width="1.2"/>
<line x1="500.06" y1="492.148" x2="507.26000000000005" y2="492.148" stroke="#111" stroke-width="1.4"/>
<line x1="311.3" y1="532.6984" x2="311.3" y2="526.3624000000001" stroke="#111" stroke-width="1.2"/>
<line x1="307.7" y1="526.3624000000001" x2="314.90000000000003" y2="526.3624000000001" stroke="#111" stroke-width="1.4"/>
<line x1="325.04" y1="523.476" x2="325.04" y2="517.1400000000001" stroke="#111" stroke-width="1.2"/>
<line x1="321.44" y1="517.1400000000001" x2="328.64000000000004" y2="517.1400000000001" stroke="#111" stroke-width="1.4"/>
<line x1="338.78000000000003" y1="516.5064000000001" x2="338.78000000000003" y2="510.87440000000004" stroke="#111" stroke-width="1.2"/>
<line x1="335.18" y1="510.87440000000004" x2="342.38000000000005" y2="510.87440000000004" stroke="#111" stroke-width="1.4"/>
<line x1="352.52" y1="512.5640000000001" x2="352.52" y2="507.6360000000001" stroke="#111" stroke-width="1.2"/>
<line x1="348.91999999999996" y1="507.6360000000001" x2="356.12" y2="507.6360000000001" stroke="#111" stroke-width="1.4"/>
<line x1="366.26" y1="513.268" x2="366.26" y2="508.34000000000003" stroke="#111" stroke-width="1.2"/>
<line x1="362.65999999999997" y1="508.34000000000003" x2="369.86" y2="508.34000000000003" stroke="#111" stroke-width="1.4"/>
<line x1="380.0" y1="509.04400000000004" x2="380.0" y2="504.82000000000005" stroke="#111" stroke-width="1.2"/>
<line x1="376.4" y1="504.82000000000005" x2="383.6" y2="504.82000000000005" stroke="#111" stroke-width="1.4"/>
<line x1="393.74" y1="506.22800000000007" x2="393.74" y2="502.004" stroke="#111" stroke-width="1.2"/>
<line x1="390.14" y1="502.004" x2="397.34000000000003" y2="502.004" stroke="#111" stroke-width="1.4"/>
<line x1="407.48" y1="506.22800000000007" x2="407.48" y2="501.30000000000007" stroke="#111" stroke-width="1.2"/>
<line x1="403.88" y1="501.30000000000007" x2="411.08000000000004" y2="501.30000000000007" stroke="#111" stroke-width="1.4"/>
<line x1="421.22" y1="512.5640000000001" x2="421.22" y2="508.34000000000003" stroke="#111" stroke-width="1.2"/>
<line x1="417.62" y1="508.34000000000003" x2="424.82000000000005" y2="508.34000000000003" stroke="#111" stroke-width="1.4"/>
<line x1="434.96000000000004" y1="511.86" x2="434.96000000000004" y2="507.636" stroke="#111" stroke-width="1.2"/>
<line x1="431.36" y1="507.636" x2="438.56000000000006" y2="507.636" stroke="#111" stroke-width="1.4"/>
<line x1="448.70000000000005" y1="508.34000000000003" x2="448.70000000000005" y2="504.11600000000004" stroke="#111" stroke-width="1.2"/>
<line x1="445.1" y1="504.11600000000004" x2="452.30000000000007" y2="504.11600000000004" stroke="#111" stroke-width="1.4"/>
<line x1="462.44000000000005" y1="511.15600000000006" x2="462.44000000000005" y2="507.636" stroke="#111" stroke-width="1.2"/>
<line x1="458.84000000000003" y1="507.636" x2="466.0400000000001" y2="507.636" stroke="#111" stroke-width="1.4"/>
<line x1="476.18" y1="511.15600000000006" x2="476.18" y2="507.636" stroke="#111" stroke-width="1.2"/>
<line x1="472.58" y1="507.636" x2="479.78000000000003" y2="507.636" stroke="#111" stroke-width="1.4"/>
<line x1="489.92" y1="511.15600000000006" x2="489.92" y2="507.636" stroke="#111" stroke-width="1.2"/>
<line x1="486.32" y1="507.636" x2="493.52000000000004" y2="507.636" stroke="#111" stroke-width="1.4"/>
<line x1="503.66" y1="507.98800000000006" x2="503.66" y2="503.764" stroke="#111" stroke-width="1.2"/>
<line x1="500.06" y1="503.764" x2="507.26000000000005" y2="503.764" stroke="#111" stroke-width="1.4"/>
<line x1="311.3" y1="503.41200000000003" x2="311.3" y2="496.72400000000005" stroke="#111" stroke-width="1.2"/>
<line x1="307.7" y1="496.72400000000005" x2="314.90000000000003" y2="496.72400000000005" stroke="#111" stroke-width="1.4"/>
<line x1="325.04" y1="497.076" x2="325.04" y2="489.684" stroke="#111" stroke-width="1.2"/>
<line x1="321.44" y1="489.684" x2="328.64000000000004" y2="489.684" stroke="#111" stroke-width="1.4"/>
<line x1="338.78000000000003" y1="492.85200000000003" x2="338.78000000000003" y2="485.81200000000007" stroke="#111" stroke-width="1.2"/>
<line x1="335.18" y1="485.81200000000007" x2="342.38000000000005" y2="485.81200000000007" stroke="#111" stroke-width="1.4"/>
<line x1="352.52" y1="490.74000000000007" x2="352.52" y2="484.40400000000005" stroke="#111" stroke-width="1.2"/>
<line x1="348.91999999999996" y1="484.40400000000005" x2="356.12" y2="484.40400000000005" stroke="#111" stroke-width="1.4"/>
<line x1="366.26" y1="493.55600000000004" x2="366.26" y2="486.86800000000005" stroke="#111" stroke-width="1.2"/>
<line x1="362.65999999999997" y1="486.86800000000005" x2="369.86" y2="486.86800000000005" stroke="#111" stroke-width="1.4"/>
<line x1="380.0" y1="493.55600000000004" x2="380.0" y2="486.516" stroke="#111" stroke-width="1.2"/>
<line x1="376.4" y1="486.516" x2="383.6" y2="486.516" stroke="#111" stroke-width="1.4"/>
<line x1="393.74" y1="494.26000000000005" x2="393.74" y2="487.57200000000006" stroke="#111" stroke-width="1.2"/>
<line x1="390.14" y1="487.57200000000006" x2="397.34000000000003" y2="487.57200000000006" stroke="#111" stroke-width="1.4"/>
<line x1="407.48" y1="485.10800000000006" x2="407.48" y2="478.4200000000001" stroke="#111" stroke-width="1.2"/>
<line x1="403.88" y1="478.4200000000001" x2="411.08000000000004" y2="478.4200000000001" stroke="#111" stroke-width="1.4"/>
<line x1="421.22" y1="485.81200000000007" x2="421.22" y2="479.124" stroke="#111" stroke-width="1.2"/>
<line x1="417.62" y1="479.124" x2="424.82000000000005" y2="479.124" stroke="#111" stroke-width="1.4"/>
<line x1="434.96000000000004" y1="485.81200000000007" x2="434.96000000000004" y2="479.124" stroke="#111" stroke-width="1.2"/>
<line x1="431.36" y1="479.124" x2="438.56000000000006" y2="479.124" stroke="#111" stroke-width="1.4"/>
<line x1="448.70000000000005" y1="485.81200000000007" x2="448.70000000000005" y2="479.124" stroke="#111" stroke-width="1.2"/>
<line x1="445.1" y1="479.124" x2="452.30000000000007" y2="479.124" stroke="#111" stroke-width="1.4"/>
<line x1="462.44000000000005" y1="485.10800000000006" x2="462.44000000000005" y2="478.06800000000004" stroke="#111" stroke-width="1.2"/>
<line x1="458.84000000000003" y1="478.06800000000004" x2="466.0400000000001" y2="478.06800000000004" stroke="#111" stroke-width="1.4"/>
<line x1="476.18" y1="483.70000000000005" x2="476.18" y2="476.66" stroke="#111" stroke-width="1.2"/>
<line x1="472.58" y1="476.66" x2="479.78000000000003" y2="476.66" stroke="#111" stroke-width="1.4"/>
<line x1="489.92" y1="485.81200000000007" x2="489.92" y2="479.124" stroke="#111" stroke-width="1.2"/>
<line x1="486.32" y1="479.124" x2="493.52000000000004" y2="479.124" stroke="#111" stroke-width="1.4"/>
<line x1="503.66" y1="490.03600000000006" x2="503.66" y2="483.70000000000005" stroke="#111" stroke-width="1.2"/>
<line x1="500.06" y1="483.70000000000005" x2="507.26000000000005" y2="483.70000000000005" stroke="#111" stroke-width="1.4"/>
<line x1="311.3" y1="506.22800000000007" x2="311.3" y2="502.708" stroke="#111" stroke-width="1.2"/>
<line x1="307.7" y1="502.708" x2="314.90000000000003" y2="502.708" stroke="#111" stroke-width="1.4"/>
<line x1="325.04" y1="499.18800000000005" x2="325.04" y2="495.31600000000003" stroke="#111" stroke-width="1.2"/>
<line x1="321.44" y1="495.31600000000003" x2="328.64000000000004" y2="495.31600000000003" stroke="#111" stroke-width="1.4"/>
<line x1="338.78000000000003" y1="498.13200000000006" x2="338.78000000000003" y2="494.6120000000001" stroke="#111" stroke-width="1.2"/>
<line x1="335.18" y1="494.6120000000001" x2="342.38000000000005" y2="494.6120000000001" stroke="#111" stroke-width="1.4"/>
<line x1="352.52" y1="488.62800000000004" x2="352.52" y2="483.70000000000005" stroke="#111" stroke-width="1.2"/>
<line x1="348.91999999999996" y1="483.70000000000005" x2="356.12" y2="483.70000000000005" stroke="#111" stroke-width="1.4"/>
<line x1="366.26" y1="497.076" x2="366.26" y2="493.20400000000006" stroke="#111" stroke-width="1.2"/>
<line x1="362.65999999999997" y1="493.20400000000006" x2="369.86" y2="493.20400000000006" stroke="#111" stroke-width="1.4"/>
<line x1="380.0" y1="494.96400000000006" x2="380.0" y2="491.4440000000001" stroke="#111" stroke-width="1.2"/>
<line x1="376.4" y1="491.4440000000001" x2="383.6" y2="491.4440000000001" stroke="#111" stroke-width="1.4"/>
<line x1="393.74" y1="496.37200000000007" x2="393.74" y2="492.85200000000003" stroke="#111" stroke-width="1.2"/>
<line x1="390.14" y1="492.85200000000003" x2="397.34000000000003" y2="492.85200000000003" stroke="#111" stroke-width="1.4"/>
<line x1="407.48" y1="499.89200000000005" x2="407.48" y2="495.668" stroke="#111" stroke-width="1.2"/>
<line x1="403.88" y1="495.668" x2="411.08000000000004" y2="495.668" stroke="#111" stroke-width="1.4"/>
<line x1="421.22" y1="493.55600000000004" x2="421.22" y2="489.684" stroke="#111" stroke-width="1.2"/>
<line x1="417.62" y1="489.684" x2="424.82000000000005" y2="489.684" stroke="#111" stroke-width="1.4"/>
<line x1="434.96000000000004" y1="497.076" x2="434.96000000000004" y2="493.55600000000004" stroke="#111" stroke-width="1.2"/>
<line x1="431.36" y1="493.55600000000004" x2="438.56000000000006" y2="493.55600000000004" stroke="#111" stroke-width="1.4"/>
<line x1="448.70000000000005" y1="499.89200000000005" x2="448.70000000000005" y2="496.37200000000007" stroke="#111" stroke-width="1.2"/>
<line x1="445.1" y1="496.37200000000007" x2="452.30000000000007" y2="496.37200000000007" stroke="#111" stroke-width="1.4"/>
<line x1="462.44000000000005" y1="496.02000000000004" x2="462.44000000000005" y2="492.50000000000006" stroke="#111" stroke-width="1.2"/>
<line x1="458.84000000000003" y1="492.50000000000006" x2="466.0400000000001" y2="492.50000000000006" stroke="#111" stroke-width="1.4"/>
<line x1="476.18" y1="494.96400000000006" x2="476.18" y2="491.4440000000001" stroke="#111" stroke-width="1.2"/>
<line x1="472.58" y1="491.4440000000001" x2="479.78000000000003" y2="491.4440000000001" stroke="#111" stroke-width="1.4"/>
<line x1="489.92" y1="496.37200000000007" x2="489.92" y2="492.85200000000003" stroke="#111" stroke-width="1.2"/>
<line x1="486.32" y1="492.85200000000003" x2="493.52000000000004" y2="492.85200000000003" stroke="#111" stroke-width="1.4"/>
<line x1="503.66" y1="492.148" x2="503.66" y2="488.62800000000004" stroke="#111" stroke-width="1.2"/>
<line x1="500.06" y1="488.62800000000004" x2="507.26000000000005" y2="488.62800000000004" stroke="#111" stroke-width="1.4"/>
<path d="M311.30,525.94 L325.04,510.80 L338.78,511.86 L352.52,506.23 L366.26,506.23 L380.00,505.52 L393.74,506.23 L407.48,510.45 L421.22,504.82 L434.96,500.60 L448.70,499.19 L462.44,497.78 L476.18,497.08 L489.92,497.08 L503.66,496.37" fill="none" stroke="#e5a43c" stroke-width="2.2" stroke-linejoin="round"/>
<path d="M311.30,532.70 L325.04,523.48 L338.78,516.51 L352.52,512.56 L366.26,513.27 L380.00,509.04 L393.74,506.23 L407.48,506.23 L421.22,512.56 L434.96,511.86 L448.70,508.34 L462.44,511.16 L476.18,511.16 L489.92,511.16 L503.66,507.99" fill="none" stroke="#c8137f" stroke-width="2.2" stroke-linejoin="round"/>
<path d="M311.30,503.41 L325.04,497.08 L338.78,492.85 L352.52,490.74 L366.26,493.56 L380.00,493.56 L393.74,494.26 L407.48,485.11 L421.22,485.81 L434.96,485.81 L448.70,485.81 L462.44,485.11 L476.18,483.70 L489.92,485.81 L503.66,490.04" fill="none" stroke="#3f2150" stroke-width="2.2" stroke-linejoin="round"/>
<path d="M311.30,506.23 L325.04,499.19 L338.78,498.13 L352.52,488.63 L366.26,497.08 L380.00,494.96 L393.74,496.37 L407.48,499.89 L421.22,493.56 L434.96,497.08 L448.70,499.89 L462.44,496.02 L476.18,494.96 L489.92,496.37 L503.66,492.15" fill="none" stroke="#86bd6e" stroke-width="2.4" stroke-linejoin="round"/>
<path d="M311.3,521.5400000000001 L315.7,525.94 L311.3,530.34 L306.90000000000003,525.94 Z" fill="#e4a032" stroke="#111" stroke-width="1.1"/>
<path d="M325.04,506.40400000000005 L329.44,510.80400000000003 L325.04,515.2040000000001 L320.64000000000004,510.80400000000003 Z" fill="#e4a032" stroke="#111" stroke-width="1.1"/>
<path d="M338.78000000000003,507.46000000000004 L343.18,511.86 L338.78000000000003,516.26 L334.38000000000005,511.86 Z" fill="#e4a032" stroke="#111" stroke-width="1.1"/>
<path d="M352.52,501.8280000000001 L356.91999999999996,506.22800000000007 L352.52,510.62800000000004 L348.12,506.22800000000007 Z" fill="#e4a032" stroke="#111" stroke-width="1.1"/>
<path d="M366.26,501.8280000000001 L370.65999999999997,506.22800000000007 L366.26,510.62800000000004 L361.86,506.22800000000007 Z" fill="#e4a032" stroke="#111" stroke-width="1.1"/>
<path d="M380.0,501.1240000000001 L384.4,505.52400000000006 L380.0,509.92400000000004 L375.6,505.52400000000006 Z" fill="#e4a032" stroke="#111" stroke-width="1.1"/>
<path d="M393.74,501.8280000000001 L398.14,506.22800000000007 L393.74,510.62800000000004 L389.34000000000003,506.22800000000007 Z" fill="#e4a032" stroke="#111" stroke-width="1.1"/>
<path d="M407.48,506.0520000000001 L411.88,510.45200000000006 L407.48,514.8520000000001 L403.08000000000004,510.45200000000006 Z" fill="#e4a032" stroke="#111" stroke-width="1.1"/>
<path d="M421.22,500.4200000000001 L425.62,504.82000000000005 L421.22,509.22 L416.82000000000005,504.82000000000005 Z" fill="#e4a032" stroke="#111" stroke-width="1.1"/>
<path d="M434.96000000000004,496.196 L439.36,500.596 L434.96000000000004,504.996 L430.56000000000006,500.596 Z" fill="#e4a032" stroke="#111" stroke-width="1.1"/>
<path d="M448.70000000000005,494.78800000000007 L453.1,499.18800000000005 L448.70000000000005,503.588 L444.30000000000007,499.18800000000005 Z" fill="#e4a032" stroke="#111" stroke-width="1.1"/>
<path d="M462.44000000000005,493.38000000000005 L466.84000000000003,497.78000000000003 L462.44000000000005,502.18 L458.0400000000001,497.78000000000003 Z" fill="#e4a032" stroke="#111" stroke-width="1.1"/>
<path d="M476.18,492.67600000000004 L480.58,497.076 L476.18,501.476 L471.78000000000003,497.076 Z" fill="#e4a032" stroke="#111" stroke-width="1.1"/>
<path d="M489.92,492.67600000000004 L494.32,497.076 L489.92,501.476 L485.52000000000004,497.076 Z" fill="#e4a032" stroke="#111" stroke-width="1.1"/>
<path d="M503.66,491.9720000000001 L508.06,496.37200000000007 L503.66,500.77200000000005 L499.26000000000005,496.37200000000007 Z" fill="#e4a032" stroke="#111" stroke-width="1.1"/>
<circle cx="311.3" cy="532.6984" r="4.2" fill="#c8137f" stroke="#111" stroke-width="1.1"/>
<circle cx="325.04" cy="523.476" r="4.2" fill="#c8137f" stroke="#111" stroke-width="1.1"/>
<circle cx="338.78000000000003" cy="516.5064000000001" r="4.2" fill="#c8137f" stroke="#111" stroke-width="1.1"/>
<circle cx="352.52" cy="512.5640000000001" r="4.2" fill="#c8137f" stroke="#111" stroke-width="1.1"/>
<circle cx="366.26" cy="513.268" r="4.2" fill="#c8137f" stroke="#111" stroke-width="1.1"/>
<circle cx="380.0" cy="509.04400000000004" r="4.2" fill="#c8137f" stroke="#111" stroke-width="1.1"/>
<circle cx="393.74" cy="506.22800000000007" r="4.2" fill="#c8137f" stroke="#111" stroke-width="1.1"/>
<circle cx="407.48" cy="506.22800000000007" r="4.2" fill="#c8137f" stroke="#111" stroke-width="1.1"/>
<circle cx="421.22" cy="512.5640000000001" r="4.2" fill="#c8137f" stroke="#111" stroke-width="1.1"/>
<circle cx="434.96000000000004" cy="511.86" r="4.2" fill="#c8137f" stroke="#111" stroke-width="1.1"/>
<circle cx="448.70000000000005" cy="508.34000000000003" r="4.2" fill="#c8137f" stroke="#111" stroke-width="1.1"/>
<circle cx="462.44000000000005" cy="511.15600000000006" r="4.2" fill="#c8137f" stroke="#111" stroke-width="1.1"/>
<circle cx="476.18" cy="511.15600000000006" r="4.2" fill="#c8137f" stroke="#111" stroke-width="1.1"/>
<circle cx="489.92" cy="511.15600000000006" r="4.2" fill="#c8137f" stroke="#111" stroke-width="1.1"/>
<circle cx="503.66" cy="507.98800000000006" r="4.2" fill="#c8137f" stroke="#111" stroke-width="1.1"/>
<circle cx="311.3" cy="503.41200000000003" r="4.2" fill="#56286e" stroke="#111" stroke-width="1.1"/>
<circle cx="325.04" cy="497.076" r="4.2" fill="#56286e" stroke="#111" stroke-width="1.1"/>
<circle cx="338.78000000000003" cy="492.85200000000003" r="4.2" fill="#56286e" stroke="#111" stroke-width="1.1"/>
<circle cx="352.52" cy="490.74000000000007" r="4.2" fill="#56286e" stroke="#111" stroke-width="1.1"/>
<circle cx="366.26" cy="493.55600000000004" r="4.2" fill="#56286e" stroke="#111" stroke-width="1.1"/>
<circle cx="380.0" cy="493.55600000000004" r="4.2" fill="#56286e" stroke="#111" stroke-width="1.1"/>
<circle cx="393.74" cy="494.26000000000005" r="4.2" fill="#56286e" stroke="#111" stroke-width="1.1"/>
<circle cx="407.48" cy="485.10800000000006" r="4.2" fill="#56286e" stroke="#111" stroke-width="1.1"/>
<circle cx="421.22" cy="485.81200000000007" r="4.2" fill="#56286e" stroke="#111" stroke-width="1.1"/>
<circle cx="434.96000000000004" cy="485.81200000000007" r="4.2" fill="#56286e" stroke="#111" stroke-width="1.1"/>
<circle cx="448.70000000000005" cy="485.81200000000007" r="4.2" fill="#56286e" stroke="#111" stroke-width="1.1"/>
<circle cx="462.44000000000005" cy="485.10800000000006" r="4.2" fill="#56286e" stroke="#111" stroke-width="1.1"/>
<circle cx="476.18" cy="483.70000000000005" r="4.2" fill="#56286e" stroke="#111" stroke-width="1.1"/>
<circle cx="489.92" cy="485.81200000000007" r="4.2" fill="#56286e" stroke="#111" stroke-width="1.1"/>
<circle cx="503.66" cy="490.03600000000006" r="4.2" fill="#56286e" stroke="#111" stroke-width="1.1"/>
<path d="M311.3,501.62800000000004 L315.90000000000003,506.22800000000007 L311.3,510.8280000000001 L306.7,506.22800000000007 Z" fill="#76ad5a" stroke="#111" stroke-width="1.1"/>
<path d="M325.04,494.588 L329.64000000000004,499.18800000000005 L325.04,503.78800000000007 L320.44,499.18800000000005 Z" fill="#76ad5a" stroke="#111" stroke-width="1.1"/>
<path d="M338.78000000000003,493.53200000000004 L343.38000000000005,498.13200000000006 L338.78000000000003,502.7320000000001 L334.18,498.13200000000006 Z" fill="#76ad5a" stroke="#111" stroke-width="1.1"/>
<path d="M352.52,484.028 L357.12,488.62800000000004 L352.52,493.22800000000007 L347.91999999999996,488.62800000000004 Z" fill="#76ad5a" stroke="#111" stroke-width="1.1"/>
<path d="M366.26,492.476 L370.86,497.076 L366.26,501.67600000000004 L361.65999999999997,497.076 Z" fill="#76ad5a" stroke="#111" stroke-width="1.1"/>
<path d="M380.0,490.36400000000003 L384.6,494.96400000000006 L380.0,499.5640000000001 L375.4,494.96400000000006 Z" fill="#76ad5a" stroke="#111" stroke-width="1.1"/>
<path d="M393.74,491.77200000000005 L398.34000000000003,496.37200000000007 L393.74,500.9720000000001 L389.14,496.37200000000007 Z" fill="#76ad5a" stroke="#111" stroke-width="1.1"/>
<path d="M407.48,495.29200000000003 L412.08000000000004,499.89200000000005 L407.48,504.4920000000001 L402.88,499.89200000000005 Z" fill="#76ad5a" stroke="#111" stroke-width="1.1"/>
<path d="M421.22,488.956 L425.82000000000005,493.55600000000004 L421.22,498.15600000000006 L416.62,493.55600000000004 Z" fill="#76ad5a" stroke="#111" stroke-width="1.1"/>
<path d="M434.96000000000004,492.476 L439.56000000000006,497.076 L434.96000000000004,501.67600000000004 L430.36,497.076 Z" fill="#76ad5a" stroke="#111" stroke-width="1.1"/>
<path d="M448.70000000000005,495.29200000000003 L453.30000000000007,499.89200000000005 L448.70000000000005,504.4920000000001 L444.1,499.89200000000005 Z" fill="#76ad5a" stroke="#111" stroke-width="1.1"/>
<path d="M462.44000000000005,491.42 L467.0400000000001,496.02000000000004 L462.44000000000005,500.62000000000006 L457.84000000000003,496.02000000000004 Z" fill="#76ad5a" stroke="#111" stroke-width="1.1"/>
<path d="M476.18,490.36400000000003 L480.78000000000003,494.96400000000006 L476.18,499.5640000000001 L471.58,494.96400000000006 Z" fill="#76ad5a" stroke="#111" stroke-width="1.1"/>
<path d="M489.92,491.77200000000005 L494.52000000000004,496.37200000000007 L489.92,500.9720000000001 L485.32,496.37200000000007 Z" fill="#76ad5a" stroke="#111" stroke-width="1.1"/>
<path d="M503.66,487.548 L508.26000000000005,492.148 L503.66,496.74800000000005 L499.06,492.148 Z" fill="#76ad5a" stroke="#111" stroke-width="1.1"/>
<text x="9.6" y="637.2" font-size="13.8" fill="#000" font-weight="bold">E</text>
<rect x="78.6" y="640.8" width="14.2" height="10" fill="#69a942"/>
<rect x="78.8" y="662" width="14" height="9.8" fill="#4e2468"/>
<rect x="239.6" y="640.8" width="14.8" height="10" fill="#dc8b14"/>
<rect x="239.6" y="662.2" width="14.8" height="9.8" fill="#c8007a"/>
<text x="96" y="649.2" font-size="9.4" fill="#111" textLength="90" lengthAdjust="spacingAndGlyphs" stroke="#111" stroke-width="0.12">WT TLI /ATS (n = 13)</text>
<text x="96" y="670.5" font-size="9.4" fill="#111" textLength="115.3" lengthAdjust="spacingAndGlyphs" stroke="#111" stroke-width="0.12">WT TLI /ATS / CTX (n = 14)</text>
<text x="257.5" y="649.2" font-size="9.4" fill="#111" textLength="110.1" lengthAdjust="spacingAndGlyphs" stroke="#111" stroke-width="0.12">β-THAL TLI / ATS (n = 13)</text>
<text x="257.5" y="670.5" font-size="9.4" fill="#111" textLength="132.3" lengthAdjust="spacingAndGlyphs" stroke="#111" stroke-width="0.12">β-THAL TLI /ATS / CTX (n = 10)</text>
<line x1="62.9" y1="694.2" x2="62.9" y2="801.2" stroke="#000" stroke-width="1.5"/>
<line x1="61" y1="800.5" x2="216.3" y2="800.5" stroke="#000" stroke-width="1.4"/>
<line x1="60" y1="800.5" x2="63" y2="800.5" stroke="#000" stroke-width="1.2"/>
<text x="55.2" y="803.8" font-size="9.4" fill="#111" text-anchor="end" stroke="#111" stroke-width="0.12">0</text>
<line x1="60" y1="783.4" x2="63" y2="783.4" stroke="#000" stroke-width="1.2"/>
<text x="55.2" y="786.6999999999999" font-size="9.4" fill="#111" text-anchor="end" stroke="#111" stroke-width="0.12">1</text>
<line x1="60" y1="766.3" x2="63" y2="766.3" stroke="#000" stroke-width="1.2"/>
<text x="55.2" y="769.5999999999999" font-size="9.4" fill="#111" text-anchor="end" stroke="#111" stroke-width="0.12">2</text>
<line x1="60" y1="749.2" x2="63" y2="749.2" stroke="#000" stroke-width="1.2"/>
<text x="55.2" y="752.5" font-size="9.4" fill="#111" text-anchor="end" stroke="#111" stroke-width="0.12">3</text>
<line x1="60" y1="732.1" x2="63" y2="732.1" stroke="#000" stroke-width="1.2"/>
<text x="55.2" y="735.4" font-size="9.4" fill="#111" text-anchor="end" stroke="#111" stroke-width="0.12">4</text>
<line x1="60" y1="715.0" x2="63" y2="715.0" stroke="#000" stroke-width="1.2"/>
<text x="55.2" y="718.3" font-size="9.4" fill="#111" text-anchor="end" stroke="#111" stroke-width="0.12">5</text>
<line x1="60" y1="697.9" x2="63" y2="697.9" stroke="#000" stroke-width="1.2"/>
<text x="55.2" y="701.1999999999999" font-size="9.4" fill="#111" text-anchor="end" stroke="#111" stroke-width="0.12">6</text>
<rect x="68.8" y="746.293" width="26.8" height="54.206999999999994" fill="#69a942"/>
<rect x="146.3" y="724.576" width="26.7" height="75.92399999999998" fill="#dc8b14"/>
<rect x="185" y="791.779" width="26.2" height="8.721000000000004" fill="#c8007a"/>
<line x1="82.5" y1="746.293" x2="82.5" y2="733.297" stroke="#111" stroke-width="1.4"/>
<line x1="75.5" y1="733.297" x2="89.5" y2="733.297" stroke="#111" stroke-width="1.6"/>
<line x1="159.7" y1="724.576" x2="159.7" y2="708.673" stroke="#111" stroke-width="1.4"/>
<line x1="152.7" y1="708.673" x2="166.7" y2="708.673" stroke="#111" stroke-width="1.6"/>
<line x1="198.1" y1="791.779" x2="198.1" y2="789.2139999999999" stroke="#111" stroke-width="1.4"/>
<line x1="191.1" y1="789.2139999999999" x2="205.1" y2="789.2139999999999" stroke="#111" stroke-width="1.6"/>
<circle cx="121.4" cy="790.8" r="1.5" fill="#111"/>
<line x1="79" y1="722.5" x2="116.3" y2="722.5" stroke="#000" stroke-width="1.6"/>
<line x1="80" y1="701.8" x2="170" y2="701.8" stroke="#000" stroke-width="1.6"/>
<line x1="172" y1="720" x2="208" y2="720" stroke="#000" stroke-width="1.6"/>
<text x="78.8" y="718.8" font-size="10" fill="#111" stroke="#111" stroke-width="0.12" textLength="39.2" lengthAdjust="spacingAndGlyphs"><tspan font-style="italic">P</tspan> &lt; 0.001</text>
<text x="103.8" y="697.5" font-size="10" fill="#111" stroke="#111" stroke-width="0.12" textLength="35" lengthAdjust="spacingAndGlyphs"><tspan font-style="italic">P</tspan> = 0.40</text>
<text x="175" y="716.3" font-size="10" fill="#111" stroke="#111" stroke-width="0.12" textLength="38.8" lengthAdjust="spacingAndGlyphs"><tspan font-style="italic">P</tspan> &lt; 0.001</text>
<text x="29.1" y="747.5" font-size="12" fill="#111" text-anchor="middle" textLength="52.6" lengthAdjust="spacingAndGlyphs" stroke="#111" stroke-width="0.12" transform="rotate(-90 29.1 747.5)">Cumulative</text>
<text x="43.6" y="747.4" font-size="12" fill="#111" text-anchor="middle" textLength="57.3" lengthAdjust="spacingAndGlyphs" stroke="#111" stroke-width="0.12" transform="rotate(-90 43.6 747.4)">GVHD score</text>
<line x1="288.5" y1="694.2" x2="288.5" y2="801.3" stroke="#000" stroke-width="1.5"/>
<line x1="286.8" y1="800.6" x2="442" y2="800.6" stroke="#000" stroke-width="1.5"/>
<line x1="285.8" y1="800.6" x2="288.8" y2="800.6" stroke="#000" stroke-width="1.2"/>
<text x="280.6" y="804.0" font-size="9.7" fill="#111" text-anchor="end" stroke="#111" stroke-width="0.12">0.0</text>
<line x1="285.8" y1="780.0" x2="288.8" y2="780.0" stroke="#000" stroke-width="1.2"/>
<text x="280.6" y="783.4" font-size="9.7" fill="#111" text-anchor="end" stroke="#111" stroke-width="0.12">0.5</text>
<line x1="285.8" y1="759.4" x2="288.8" y2="759.4" stroke="#000" stroke-width="1.2"/>
<text x="280.6" y="762.8" font-size="9.7" fill="#111" text-anchor="end" stroke="#111" stroke-width="0.12">1.0</text>
<line x1="285.8" y1="738.8000000000001" x2="288.8" y2="738.8000000000001" stroke="#000" stroke-width="1.2"/>
<text x="280.6" y="742.2" font-size="9.7" fill="#111" text-anchor="end" stroke="#111" stroke-width="0.12">1.5</text>
<line x1="285.8" y1="718.2" x2="288.8" y2="718.2" stroke="#000" stroke-width="1.2"/>
<text x="280.6" y="721.6" font-size="9.7" fill="#111" text-anchor="end" stroke="#111" stroke-width="0.12">2.0</text>
<line x1="285.8" y1="697.6" x2="288.8" y2="697.6" stroke="#000" stroke-width="1.2"/>
<text x="280.6" y="701.0" font-size="9.7" fill="#111" text-anchor="end" stroke="#111" stroke-width="0.12">2.5</text>
<rect x="294.4" y="762.49" width="26.4" height="38.110000000000014" fill="#69a942"/>
<rect x="371.3" y="733.032" width="26.7" height="67.56799999999998" fill="#dc8b14"/>
<rect x="410.5" y="794.9968" width="26.3" height="5.603200000000015" fill="#c8007a"/>
<line x1="308" y1="762.49" x2="308" y2="745.392" stroke="#111" stroke-width="1.4"/>
<line x1="301" y1="745.392" x2="315" y2="745.392" stroke="#111" stroke-width="1.6"/>
<line x1="384.4" y1="733.032" x2="384.4" y2="710.3720000000001" stroke="#111" stroke-width="1.4"/>
<line x1="377.4" y1="710.3720000000001" x2="391.4" y2="710.3720000000001" stroke="#111" stroke-width="1.6"/>
<line x1="423.4" y1="794.9968" x2="423.4" y2="790.506" stroke="#111" stroke-width="1.4"/>
<line x1="416.4" y1="790.506" x2="430.4" y2="790.506" stroke="#111" stroke-width="1.6"/>
<circle cx="346.8" cy="790.9" r="1.5" fill="#111"/>
<line x1="303.8" y1="718.8" x2="339.5" y2="718.8" stroke="#000" stroke-width="1.6"/>
<line x1="303" y1="698.6" x2="392.5" y2="698.6" stroke="#000" stroke-width="1.6"/>
<line x1="398" y1="718.8" x2="434.5" y2="718.8" stroke="#000" stroke-width="1.6"/>
<text x="304.5" y="714.5" font-size="10" fill="#111" stroke="#111" stroke-width="0.12" textLength="33.5" lengthAdjust="spacingAndGlyphs"><tspan font-style="italic">P</tspan> &lt; 0.01</text>
<text x="330.5" y="693.8" font-size="10" fill="#111" stroke="#111" stroke-width="0.12" textLength="35" lengthAdjust="spacingAndGlyphs"><tspan font-style="italic">P</tspan> = 0.47</text>
<text x="398.8" y="715.5" font-size="10" fill="#111" stroke="#111" stroke-width="0.12" textLength="35" lengthAdjust="spacingAndGlyphs"><tspan font-style="italic">P</tspan> = 0.02</text>
<text x="247.1" y="747" font-size="12" fill="#111" text-anchor="middle" textLength="36.2" lengthAdjust="spacingAndGlyphs" stroke="#111" stroke-width="0.12" transform="rotate(-90 247.1 747)">Colonic</text>
<text x="261.1" y="747.5" font-size="12" fill="#111" text-anchor="middle" textLength="57.5" lengthAdjust="spacingAndGlyphs" stroke="#111" stroke-width="0.12" transform="rotate(-90 261.1 747.5)">GVHD score</text>
<rect x="1" y="1" width="518" height="813" fill="none" stroke="#000" stroke-width="2"/>
</svg>
</body></html>
